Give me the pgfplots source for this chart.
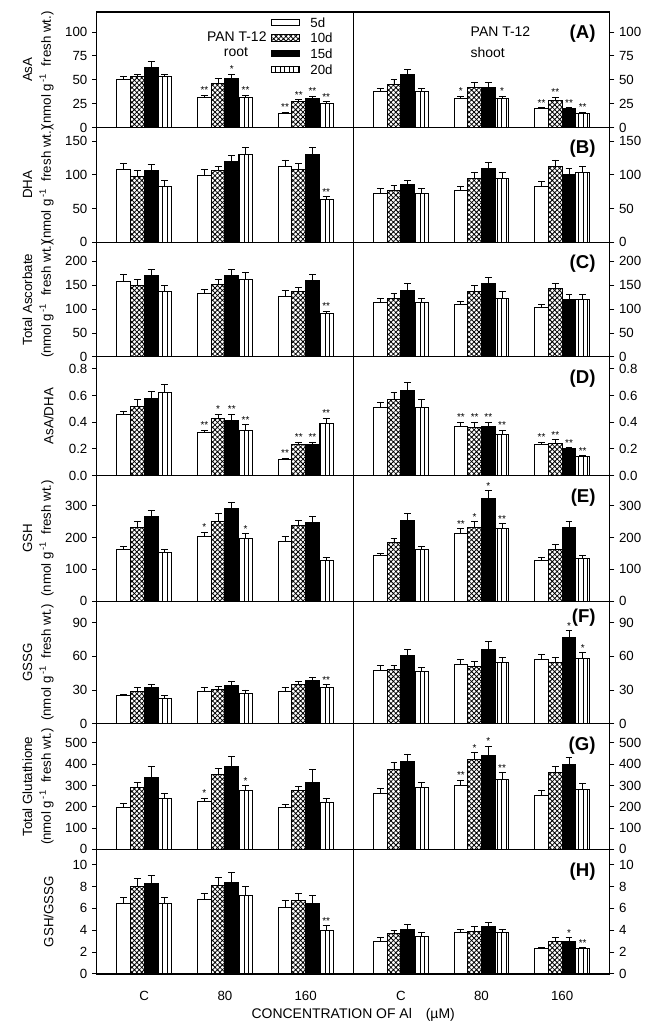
\documentclass[border=0pt]{standalone}
\usepackage{fontspec}
\setmainfont{Liberation Sans}
\usepackage{pgfplots}
\pgfplotsset{compat=1.18}
\usepackage{pgfplotstable}
\usepgfplotslibrary{groupplots}
\usetikzlibrary{patterns,patterns.meta,calc}

% columns: x, then value / error / mark for 5d, 10d, 15d, 20d
\pgfplotstableread{
x a ae al b be bl c ce cl d de dl
0 50 4 {} 53 3 {} 63 6 {} 53 3 {}
1 31 3 ** 46 5 {} 51 5 * 31 3 **
2 15 1 ** 27 2 ** 30 3 ** 25 2 **
}\tAr
\pgfplotstableread{
x a ae al b be bl c ce cl d de dl
0 38 3 {} 45 5 {} 56 5 {} 38 3 {}
1 30 3 * 42 5 {} 42 5 {} 30 3 *
2 20 1 ** 28 4 ** 20 1 ** 15 1 **
}\tAs
\pgfplotstableread{
x a ae al b be bl c ce cl d de dl
0 108 9 {} 97 9 {} 106 9 {} 82 9 {}
1 99 9 {} 106 7 {} 120 9 {} 130 11 {}
2 113 9 {} 108 9 {} 130 11 {} 63 5 **
}\tBr
\pgfplotstableread{
x a ae al b be bl c ce cl d de dl
0 73 6 {} 77 7 {} 85 7 {} 73 6 {}
1 77 5 {} 94 10 {} 110 9 {} 94 10 {}
2 82 8 {} 113 9 {} 100 9 {} 104 9 {}
}\tBs
\pgfplotstableread{
x a ae al b be bl c ce cl d de dl
0 157 16 {} 150 13 {} 170 13 {} 137 13 {}
1 133 9 {} 152 10 {} 170 13 {} 163 13 {}
2 126 13 {} 136 10 {} 160 13 {} 90 6 **
}\tCr
\pgfplotstableread{
x a ae al b be bl c ce cl d de dl
0 113 9 {} 122 11 {} 139 14 {} 113 9 {}
1 110 6 {} 137 13 {} 153 13 {} 123 14 {}
2 103 7 {} 143 10 {} 120 10 {} 120 10 {}
}\tCs
\pgfplotstableread{
x a ae al b be bl c ce cl d de dl
0 0.46 0.02 {} 0.52 0.05 {} 0.58 0.05 {} 0.62 0.06 {}
1 0.32 0.02 ** 0.43 0.03 * 0.41 0.05 ** 0.34 0.04 **
2 0.12 0.01 ** 0.23 0.02 ** 0.23 0.02 ** 0.39 0.04 **
}\tDr
\pgfplotstableread{
x a ae al b be bl c ce cl d de dl
0 0.51 0.04 {} 0.57 0.05 {} 0.64 0.06 {} 0.51 0.06 {}
1 0.37 0.03 ** 0.36 0.04 ** 0.37 0.03 ** 0.31 0.03 **
2 0.23 0.02 ** 0.24 0.03 ** 0.20 0.01 ** 0.14 0.01 **
}\tDs
\pgfplotstableread{
x a ae al b be bl c ce cl d de dl
0 163 10 {} 232 20 {} 265 20 {} 152 10 {}
1 202 15 * 250 25 {} 290 20 {} 197 15 *
2 187 15 {} 237 18 {} 246 20 {} 128 10 {}
}\tEr
\pgfplotstableread{
x a ae al b be bl c ce cl d de dl
0 143 8 {} 183 15 {} 255 20 {} 163 10 {}
1 212 15 ** 232 18 * 323 25 * 228 15 **
2 128 10 {} 163 15 {} 232 20 {} 133 10 {}
}\tEs
\pgfplotstableread{
x a ae al b be bl c ce cl d de dl
0 25 1 {} 29 3 {} 32 3 {} 22 3 {}
1 29 3 {} 30 3 {} 34 4 {} 27 3 {}
2 29 3 {} 35 3 {} 38 3 {} 32 3 **
}\tFr
\pgfplotstableread{
x a ae al b be bl c ce cl d de dl
0 47 5 {} 48 4 {} 61 5 {} 46 4 {}
1 53 4 {} 51 4 {} 66 7 {} 54 5 {}
2 57 5 {} 54 5 {} 77 6 * 58 5 *
}\tFs
\pgfplotstableread{
x a ae al b be bl c ce cl d de dl
0 197 20 {} 292 22 {} 338 50 {} 240 22 {}
1 225 15 * 352 28 {} 390 45 {} 277 22 *
2 196 15 {} 277 20 {} 315 60 {} 218 22 {}
}\tGr
\pgfplotstableread{
x a ae al b be bl c ce cl d de dl
0 262 22 {} 375 35 {} 413 35 {} 290 22 {}
1 300 25 ** 420 35 * 440 45 * 330 30 **
2 255 20 {} 360 28 {} 398 35 {} 283 25 {}
}\tGs
\pgfplotstableread{
x a ae al b be bl c ce cl d de dl
0 6.4 0.6 {} 8.0 0.7 {} 8.3 0.7 {} 6.4 0.6 {}
1 6.8 0.6 {} 8.1 0.7 {} 8.4 0.9 {} 7.2 0.8 {}
2 6.1 0.6 {} 6.7 0.7 {} 6.4 0.8 {} 4.0 0.4 **
}\tHr
\pgfplotstableread{
x a ae al b be bl c ce cl d de dl
0 3.0 0.3 {} 3.7 0.3 {} 4.1 0.4 {} 3.4 0.4 {}
1 3.8 0.3 {} 3.9 0.4 {} 4.3 0.4 {} 3.8 0.3 {}
2 2.3 0.1 {} 3.0 0.3 {} 3.0 0.3 * 2.3 0.1 **
}\tHs

\newcommand{\unit}{(nmol g\textsuperscript{\,-1}\ \ fresh wt.)}

\tikzset{
  letter/.style={anchor=north east, font=\fontsize{14}{14}\selectfont\bfseries},
  txt/.style={font=\fontsize{10.5}{10.5}\selectfont, inner sep=0pt},
}

\pgfplotsset{
  bar/.style={ybar, bar shift=0pt, draw=black, line width=0.75pt,
    legend image code/.code={\draw[##1] (0pt,-2.3pt) rectangle (21pt,2.3pt); \path (29pt,0pt);},
    error bars/y dir=plus, error bars/y explicit,
    error bars/error bar style={line width=0.7pt, black},
    error bars/error mark options={rotate=90, mark size=2.6pt, line width=0.7pt, black}},
  lbl/.style={forget plot, draw=none, mark=none, nodes near coords,
    point meta=explicit symbolic,
    nodes near coords style={font=\fontsize{7.5}{7.5}\selectfont, anchor=south, inner sep=0.8pt}},
  panel/.style={width=193pt, scale only axis, xmin=-0.59, xmax=2.59,
    xtick={0,1,2}, xticklabels={}, xtick style={draw=none},
    xticklabel style={yshift=-3pt},
    bar width=0.17, ymin=0, tick align=outside, major tick length=3.5pt,
    axis line style={line width=0.9pt},
    ytick style={line width=0.7pt, black},
    tick label style={font=\fontsize{10}{10}\selectfont},
    /pgf/number format/assume math mode=true},
  L/.style={panel, ytick pos=left,
    ylabel style={at={(rel axis cs:-0.15,0.5)}, anchor=south, align=center,
      font=\fontsize{10}{10}\selectfont}},
  R/.style={panel, ytick pos=right, yticklabel pos=right},
}

% four bars per group, placed at x-0.255, x-0.085, x+0.085, x+0.255
\newcommand{\bars}[1]{%
  \addplot[bar, fill=white] table[x expr=\thisrow{x}-0.255, y=a, y error=ae]{#1};
  \addplot[bar, pattern={Hatch[angle=45, distance=2.6pt, line width=0.6pt]}] table[x expr=\thisrow{x}-0.085, y=b, y error=be]{#1};
  \addplot[bar, fill=black] table[x expr=\thisrow{x}+0.085, y=c, y error=ce]{#1};
  \addplot[bar, pattern={Lines[angle=90, distance=3.4pt, line width=0.7pt]}] table[x expr=\thisrow{x}+0.255, y=d, y error=de]{#1};
  \addplot[lbl] table[x expr=\thisrow{x}-0.255, y expr=\thisrow{a}+\thisrow{ae}, meta=al]{#1};
  \addplot[lbl] table[x expr=\thisrow{x}-0.085, y expr=\thisrow{b}+\thisrow{be}, meta=bl]{#1};
  \addplot[lbl] table[x expr=\thisrow{x}+0.085, y expr=\thisrow{c}+\thisrow{ce}, meta=cl]{#1};
  \addplot[lbl] table[x expr=\thisrow{x}+0.255, y expr=\thisrow{d}+\thisrow{de}, meta=dl]{#1};
}

\begin{document}
\begin{tikzpicture}
\begin{groupplot}[group style={group size=2 by 8, horizontal sep=0pt,
    vertical sep=0pt},
  panel]
% (A)
\nextgroupplot[L, height=87pt, ymax=121, ytick={0,25,50,75,100},
  ylabel={AsA\\[4pt]\unit},
  legend style={at={(rel axis cs:0.678,0.955)}, anchor=north west, draw=none,
    fill=none, inner sep=0pt, font=\fontsize{10}{10}\selectfont, row sep=4.5pt,
    nodes={inner sep=0pt, text height=7.3pt, text depth=0pt}}, legend cell align=left]
\bars{\tAr}
\legend{5d,10d,15d,20d}
\node[txt, anchor=east] at (rel axis cs:0.663,0.79) {PAN T-12};
\node[txt] at (rel axis cs:0.543,0.655) {root};
\nextgroupplot[R, height=87pt, ymax=121, ytick={0,25,50,75,100}]
\bars{\tAs}
\node[txt, anchor=west] at (rel axis cs:0.457,0.826) {PAN T-12};
\node[txt, anchor=west] at (rel axis cs:0.457,0.645) {shoot};
\node[letter] at (rel axis cs:0.963,0.93) {(A)};
% (B)
\nextgroupplot[L, height=86.25pt, ymax=170, ytick={0,50,100,150},
  ylabel={DHA\\[4pt]\unit}]
\bars{\tBr}
\nextgroupplot[R, height=86.25pt, ymax=170, ytick={0,50,100,150}]
\bars{\tBs}
\node[letter] at (rel axis cs:0.963,0.93) {(B)};
% (C)
\nextgroupplot[L, height=86.25pt, ymax=240, ytick={0,50,100,150,200},
  ylabel={Total Ascorbate\\[4pt]\unit}]
\bars{\tCr}
\nextgroupplot[R, height=86.25pt, ymax=240, ytick={0,50,100,150,200}]
\bars{\tCs}
\node[letter] at (rel axis cs:0.963,0.93) {(C)};
% (D)
\nextgroupplot[L, height=89.25pt, ymax=0.89, ytick={0,0.2,0.4,0.6,0.8},
  yticklabel style={/pgf/number format/.cd, fixed, fixed zerofill, precision=1},
  ylabel={AsA/DHA}]
\bars{\tDr}
\nextgroupplot[R, height=89.25pt, ymax=0.89, ytick={0,0.2,0.4,0.6,0.8},
  yticklabel style={/pgf/number format/.cd, fixed, fixed zerofill, precision=1}]
\bars{\tDs}
\node[letter] at (rel axis cs:0.963,0.93) {(D)};
% (E)
\nextgroupplot[L, height=94.5pt, ymax=395, ytick={0,100,200,300},
  ylabel={GSH\\[4pt]\unit}]
\bars{\tEr}
\nextgroupplot[R, height=94.5pt, ymax=395, ytick={0,100,200,300}]
\bars{\tEs}
\node[letter] at (rel axis cs:0.963,0.93) {(E)};
% (F)
\nextgroupplot[L, height=92.25pt, ymax=109, ytick={0,30,60,90},
  ylabel={GSSG\\[4pt]\unit}]
\bars{\tFr}
\nextgroupplot[R, height=92.25pt, ymax=109, ytick={0,30,60,90}]
\bars{\tFs}
\node[letter] at (rel axis cs:0.963,0.97) {(F)};
% (G)
\nextgroupplot[L, height=94.5pt, ymax=590, ytick={0,100,200,300,400,500},
  ylabel={Total Glutathione\\[4pt]\unit}]
\bars{\tGr}
\nextgroupplot[R, height=94.5pt, ymax=590, ytick={0,100,200,300,400,500}]
\bars{\tGs}
\node[letter] at (rel axis cs:0.963,0.93) {(G)};
% (H)
\nextgroupplot[L, height=93.75pt, ymax=11.4, ytick={0,2,4,6,8,10},
  xticklabels={C,80,160}, ylabel={GSH/GSSG},
  xlabel={CONCENTRATION OF Al\quad(µM)},
  xlabel style={at={(rel axis cs:1,-0.33)}, anchor=center,
    font=\fontsize{10.5}{10.5}\selectfont}]
\bars{\tHr}
\nextgroupplot[R, height=93.75pt, ymax=11.4, ytick={0,2,4,6,8,10},
  xticklabels={C,80,160}]
\bars{\tHs}
\node[letter] at (rel axis cs:0.963,0.93) {(H)};
\end{groupplot}
\path ($(group c1r1.north west)+(-72.75pt,9pt)$) rectangle ++(483pt,-769.5pt);
\end{tikzpicture}
\end{document}
